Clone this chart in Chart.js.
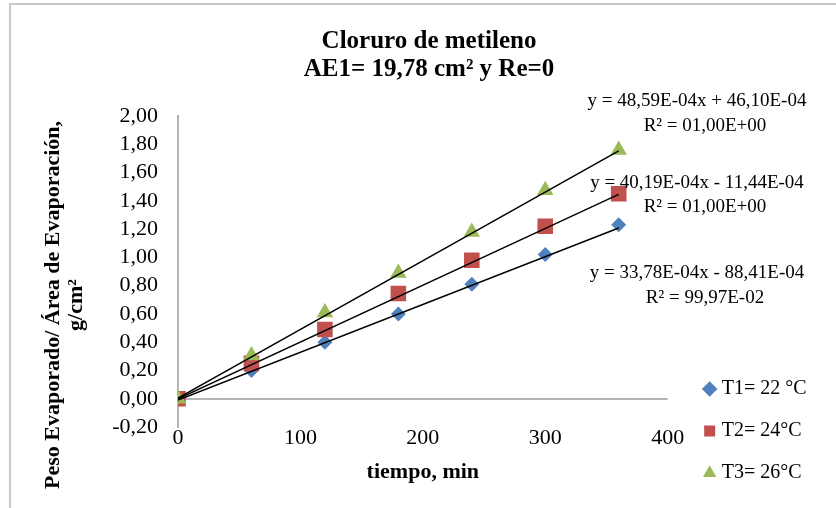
<!DOCTYPE html>
<html lang="es">
  <head>
    <meta charset="UTF-8" />
    <title>Cloruro de metileno</title>
    <script src="https://cdn.jsdelivr.net/npm/chart.js"></script>
    <style>
      body {
        margin: 0;
        background: #ffffff;
      }
      .wrap {
        position: relative;
        width: 836px;
        height: 508px;
        overflow: hidden;
      }
      .marco {
        position: absolute;
        left: 9px;
        top: 3px;
        right: -10px;
        bottom: -10px;
        border-top: 2px solid #c8c8c8;
        border-left: 2px solid #c8c8c8;
      }
      canvas {
        position: absolute;
        left: 0;
        top: 0;
      }
    </style>
  </head>
  <body>
    <div class="wrap">
      <div class="marco"></div>
      <canvas id="grafico" width="836" height="508"></canvas>
    </div>

    <script>
      // datos
      const tiempo = [0, 60, 120, 180, 240, 300, 360];
      const t1 = [0, 0.20, 0.40, 0.60, 0.81, 1.02, 1.23];
      const t2 = [0, 0.25, 0.49, 0.745, 0.98, 1.22, 1.45];
      const t3 = [0, 0.305, 0.61, 0.89, 1.18, 1.475, 1.76];
      const etiquetas = ['T1= 22 °C', 'T2= 24°C', 'T3= 26°C'];
      const colores = ['#4f81bd', '#c0504d', '#9bbb59'];
      const marcadores = ['rectRot', 'rect', 'triangle'];

      // lineas de tendencia (y = m x + b)
      const pendientes = [33.78e-4, 40.19e-4, 48.59e-4];
      const intercepciones = [-88.41e-4, -11.44e-4, 46.10e-4];
      const ecuaciones = [
        ['y = 33,78E-04x - 88,41E-04', 'R² = 99,97E-02'],
        ['y = 40,19E-04x - 11,44E-04', 'R² = 01,00E+00'],
        ['y = 48,59E-04x + 46,10E-04', 'R² = 01,00E+00']
      ];

      const yMin = -0.2, yMax = 2.0, yPaso = 0.2;
      const xMin = 0, xMax = 400, xPaso = 100;

      const fuente = 'Liberation Serif';
      const series = [t1, t2, t3];

      const datasets = series.map((s, i) => ({
        label: etiquetas[i],
        data: tiempo.map((t, j) => ({ x: t, y: s[j] })),
        pointStyle: marcadores[i],
        pointRadius: [7.5, 11, 9.5][i],
        backgroundColor: colores[i],
        borderColor: colores[i],
        borderWidth: 0,
        showLine: false,
        order: 3 - i
      }));

      series.forEach((s, i) => {
        const xFin = tiempo[tiempo.length - 1];
        datasets.push({
          label: 'tendencia ' + (i + 1),
          data: [
            { x: 0, y: intercepciones[i] },
            { x: xFin, y: pendientes[i] * xFin + intercepciones[i] }
          ],
          showLine: true,
          pointRadius: 0,
          borderColor: '#000000',
          borderWidth: 1.5,
          order: 0
        });
      });

      // textos de las ecuaciones y titulo del eje y
      const textos = {
        id: 'textos',
        afterDraw(chart) {
          const ctx = chart.ctx;
          ctx.save();
          ctx.fillStyle = '#000000';
          ctx.font = '19px "' + fuente + '"';
          ctx.textAlign = 'center';
          ctx.textBaseline = 'middle';
          const filas = [[273, 298], [183, 207], [101, 126]];
          ecuaciones.forEach((e, i) => {
            ctx.fillText(e[0], 697, filas[i][0]);
            ctx.fillText(e[1], 705, filas[i][1]);
          });

          ctx.font = 'bold 22px "' + fuente + '"';
          ctx.translate(53, 305);
          ctx.rotate(-Math.PI / 2);
          ctx.fillText('Peso Evaporado/ Área de Evaporación,', 0, 0);
          ctx.fillText('g/cm²', 0, 23);
          ctx.restore();
        }
      };

      const fmt = v => (Math.abs(v) < 1e-9 ? 0 : v).toFixed(2).replace('.', ',');

      new Chart(document.getElementById('grafico'), {
        type: 'scatter',
        data: { datasets: datasets },
        options: {
          responsive: false,
          animation: false,
          layout: { padding: { left: 44, right: 22, top: 0, bottom: 3 } },
          scales: {
            x: {
              type: 'linear',
              min: xMin,
              max: xMax,
              ticks: {
                stepSize: xPaso,
                color: '#000000',
                padding: -10,
                font: { family: fuente, size: 22 }
              },
              grid: { display: false },
              border: { display: false },
              title: {
                display: true,
                text: 'tiempo, min',
                color: '#000000',
                font: { family: fuente, size: 22, weight: 'bold' },
                padding: { top: 0, bottom: 19 }
              },
              afterFit: s => { s.height = 78; }
            },
            y: {
              min: yMin,
              max: yMax,
              ticks: {
                stepSize: yPaso,
                autoSkip: false,
                color: '#000000',
                padding: 20,
                font: { family: fuente, size: 22 },
                callback: v => fmt(v)
              },
              grid: {
                drawTicks: false,
                lineWidth: 2,
                color: c => (c.tick && Math.abs(c.tick.value) < 1e-9 ? '#b4b4b4' : 'rgba(0,0,0,0)')
              },
              border: { display: true, color: '#b4b4b4', width: 2 },
              afterFit: s => { s.width = 134; }
            },
            hueco: {
              type: 'linear',
              position: 'right',
              ticks: { display: false },
              grid: { display: false },
              border: { display: false },
              afterFit: s => { s.width = 18; }
            }
          },
          plugins: {
            title: {
              display: true,
              text: ['Cloruro de metileno', 'AE1= 19,78 cm² y Re=0'],
              color: '#000000',
              font: { family: fuente, size: 25, weight: 'bold', lineHeight: 1.12 },
              padding: { top: 28, bottom: 32 }
            },
            legend: {
              position: 'right',
              align: 'end',
              labels: {
                usePointStyle: true,
                boxWidth: 4,
                boxHeight: 11,
                padding: 22,
                color: '#000000',
                font: { family: fuente, size: 20 },
                filter: item => item.datasetIndex < 3,
                sort: (a, b) => a.datasetIndex - b.datasetIndex
              }
            },
            tooltip: { enabled: false }
          }
        },
        plugins: [textos]
      });
    </script>
  </body>
</html>
